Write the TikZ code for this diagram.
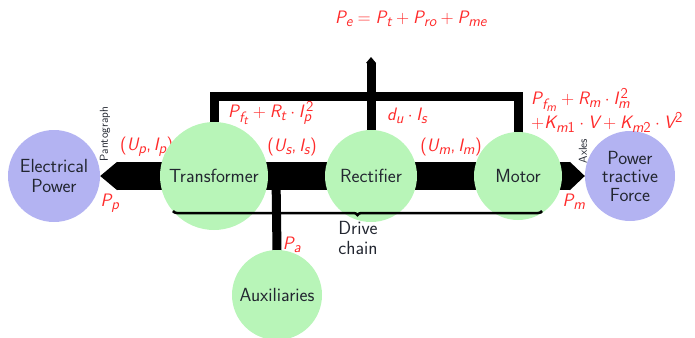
\documentclass[tikz,border=0pt]{standalone}
\renewcommand{\familydefault}{\sfdefault}
\usepackage[italic]{mathastext}
\usetikzlibrary{arrows.meta,backgrounds,decorations.pathreplacing}
\definecolor{lav}{HTML}{B3B3F2}
\definecolor{lgreen}{HTML}{B8F5B8}
\definecolor{lblred}{HTML}{FF2A2A}
\definecolor{ink}{HTML}{222630}
\begin{document}
\begin{tikzpicture}[x=1pt,y=-1pt,
  circ/.style={circle,inner sep=0pt,align=center,text=ink,font=\fontsize{19}{20}\selectfont\sffamily},
  pw/.style={circ,fill=lav},
  cmp/.style={circ,fill=lgreen},
  lbl/.style={text=lblred,font=\fontsize{18}{21}\selectfont\sffamily,inner sep=0pt},
  smalltxt/.style={font=\fontsize{11.5}{13}\selectfont\sffamily,inner sep=0pt,text=ink},
  band/.style={line width=28pt},
  bar/.style={line width=9pt},
]
\useasboundingbox (0,0) rectangle (695,337);
\node[pw,minimum size=92pt] (elec) at (54,176) {Electrical\\Power};
\node[cmp,minimum size=108pt] (trans) at (214,176) {Transformer};
\node[cmp,minimum size=92pt] (rect) at (371,176) {Rectifier};
\node[cmp,minimum size=88pt] (motor) at (518,176) {Motor};
\node[pw,minimum size=90pt,font=\fontsize{19}{18.5}\selectfont\sffamily] (ptf) at (630,176) {Power\\tractive\\Force};
\node[cmp,minimum size=90pt] (aux) at (277,295) {Auxiliaries};
\begin{scope}[on background layer]
  \draw[band,-{Triangle[width=28.5pt,length=17pt,line width=0pt]}] (trans.center) -- (elec.east);
  \draw[band] (trans.center) -- (motor.center);
  \draw[band,-{Triangle[width=28.5pt,length=15pt,line width=0pt]}] (motor.center) -- (ptf.west);
  \coordinate (bartop) at (0,96);
  \draw[bar] (trans.center) -- (trans.center |- bartop) -- (motor.center |- bartop) -- (motor.center);
  \coordinate (petip) at (371,57);
  \draw[bar,-{Triangle[width=10pt,length=6pt,line width=0pt]}] (rect.center) -- (petip);
  \coordinate (auxj) at (276,176);
  \draw[bar,line cap=round] (auxj) -- ([yshift=-1pt]aux.north);
  \node[lbl,anchor=west] (up) at (120,147) {$(U_p, I_p)$};
\end{scope}
\node[lbl] (pe) at (411,19) {$P_e = P_t + P_{ro} + P_{me}$};
\node[lbl,anchor=west] (lt) at (228,113) {$P_{f_t} + R_t\cdot I_p^{\,2}$};
\node[lbl,anchor=west] (lr) at (387,116) {$d_u\cdot I_s$};
\node[lbl,anchor=north west,align=left] (lm) at (531,88) {$P_{f_m} + R_m\cdot I_m^{\,2}$\\$+K_{m1}\cdot V + K_{m2}\cdot V^2$};
\node[lbl] (us) at (292,147) {$(U_s, I_s)$};
\node[lbl] (um) at (451,147) {$(U_m, I_m)$};
\node[lbl] (pp) at (110,203) {$P_p$};
\node[lbl] (pm) at (574,202) {$P_m$};
\node[lbl] (pa) at (292,245) {$P_a$};
\node[smalltxt,rotate=90] (panto) at (105,134) {Pantograph};
\node[smalltxt,rotate=90] (axl) at (583,151) {Axles};
\draw[line width=2.5pt,decorate,decoration={brace,mirror,amplitude=4pt}] (173,211) -- (542,211);
\node[circ,inner sep=0pt] (dc) at (358,238) {Drive\\chain};
\end{tikzpicture}
\end{document}
